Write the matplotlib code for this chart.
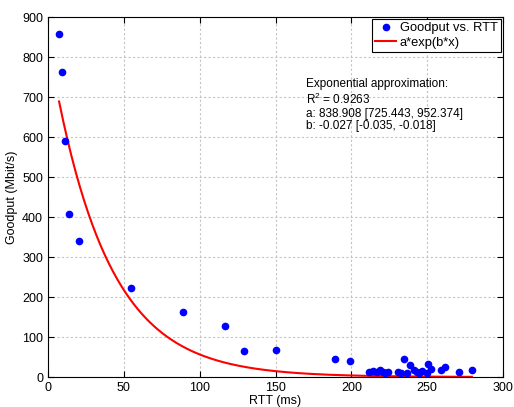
import numpy as np
import matplotlib.pyplot as plt

plt.rcParams['font.family'] = ['Liberation Sans', 'DejaVu Sans']

rtt = [7.3, 9.2, 11.2, 13.8, 20.4, 54.7, 89, 117, 129, 150, 189, 199,
       211.6, 214.5, 216.7, 218.9, 220.6, 222.3, 224.4, 231, 232.6, 234.5,
       236.7, 238.7, 241.3, 243.1, 244.4, 246.6, 249.6, 250.5, 252.3, 258.9,
       261.7, 271.1, 279.5]
goodput = [857, 762, 590, 407, 340, 222, 162, 128, 65, 67, 45, 41,
           13, 15, 13, 18, 12, 9, 12, 12, 9, 45,
           11, 31, 17, 12, 9, 14, 11, 33, 19, 17,
           26, 13, 18]

# fit parameters shown in the annotation
a, b = 838.908, -0.027
x_fit = np.linspace(min(rtt), max(rtt), 300)
y_fit = a * np.exp(b * x_fit)

fig = plt.figure(figsize=(5.14, 4.07), dpi=100)
ax = fig.add_axes([0.0934, 0.0737, 0.8852, 0.8845])

ax.plot(rtt, goodput, 'o', color='#0000ff', markersize=4.5, label='Goodput vs. RTT', zorder=3)
ax.plot(x_fit, y_fit, color='#ff0000', linewidth=1.5, label='a*exp(b*x)', zorder=2)

ax.set_xlim(0, 300)
ax.set_ylim(0, 900)
ax.set_xticks(np.arange(0, 301, 50))
ax.set_yticks(np.arange(0, 901, 100))
ax.grid(True, linestyle=(0, (2, 2)), color='#c4c4c4', linewidth=0.8)
ax.tick_params(direction='in', labelsize=9, top=True, right=True, length=4)
for s in ax.spines.values():
    s.set_linewidth(0.8)

ax.set_xlabel('RTT (ms)', fontsize=9, labelpad=1)
ax.set_ylabel('Goodput (Mbit/s)', fontsize=9, labelpad=3)

leg = ax.legend(loc='upper right', fontsize=9.3, frameon=True, fancybox=False,
                borderaxespad=0.15, handlelength=1.6, handletextpad=0.3,
                borderpad=0.25, labelspacing=0.2, framealpha=1)
leg.get_frame().set_edgecolor('black')
leg.get_frame().set_linewidth(0.8)

ax.text(170, 747, 'Exponential approximation:\n$\\mathregular{R^2}$ = 0.9263\n'
        'a: 838.908 [725.443, 952.374]\nb: -0.027 [-0.035, -0.018]',
        fontsize=8.5, va='top', ha='left', linespacing=1.1)

fig.savefig('out.png', dpi=100)
